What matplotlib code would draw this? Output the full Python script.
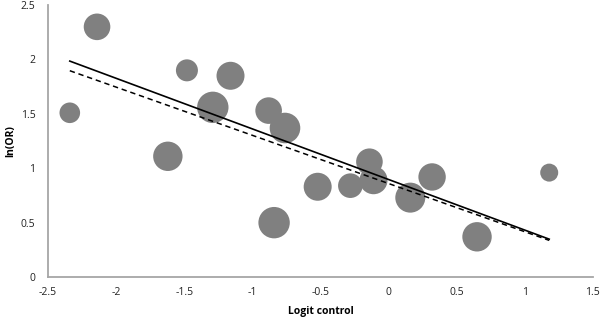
import matplotlib
matplotlib.use('Agg')
import matplotlib.pyplot as plt
import numpy as np

# bubble data
logit_control = [-2.34, -2.14, -1.48, -1.16, -1.29, -1.62, -0.88, -0.76, -0.84,
                 -0.52, -0.28, -0.14, -0.11, 0.16, 0.32, 0.65, 1.18]
ln_or = [1.51, 2.30, 1.90, 1.85, 1.56, 1.11, 1.53, 1.37, 0.50,
         0.83, 0.84, 1.06, 0.89, 0.73, 0.92, 0.37, 0.96]
# bubble radius (relative weight)
weight = [10.3, 13.3, 11.0, 14.0, 15.7, 14.7, 13.3, 15.3, 15.7,
          14.0, 12.3, 13.3, 14.0, 15.0, 13.7, 14.7, 9.0]

# trend lines: intercept, slope
fit_solid = (0.897, -0.465)
fit_dashed = (0.860, -0.443)

xticks = [-2.5, -2, -1.5, -1, -0.5, 0, 0.5, 1, 1.5]
yticks = [0, 0.5, 1, 1.5, 2, 2.5]

plt.rcParams['font.family'] = ['Open Sans', 'DejaVu Sans']

fig = plt.figure(figsize=(6, 3.17), dpi=100)
ax = fig.add_axes([0.08, 0.126, 0.908, 0.858])

s = [(2 * r * 0.72) ** 2 for r in weight]
ax.scatter(logit_control, ln_or, s=s, color='#808080', edgecolors='none', zorder=2)

xs = np.array([min(logit_control), max(logit_control)])
ax.plot(xs, fit_solid[0] + fit_solid[1] * xs, color='black', lw=1.2, zorder=3)
ax.plot(xs, fit_dashed[0] + fit_dashed[1] * xs, color='black', lw=1.1,
        ls=(0, (3.5, 2.5)), zorder=3)

ax.set_xlim(-2.5, 1.5)
ax.set_ylim(0, 2.5)
ax.set_xticks(xticks)
ax.set_xticklabels([('%g' % v) for v in xticks])
ax.set_yticks(yticks)
ax.set_yticklabels([('%g' % v) for v in yticks])
ax.tick_params(length=0, labelsize=7.5, colors='#222222')
ax.tick_params(axis='x', pad=7)
ax.tick_params(axis='y', pad=9)

for side in ['top', 'right']:
    ax.spines[side].set_visible(False)
for side in ['left', 'bottom']:
    ax.spines[side].set_color('#a6a6a6')
    ax.spines[side].set_linewidth(1.3)

ax.set_xlabel('Logit control', fontsize=7.5, fontweight='bold', labelpad=6)
ax.set_ylabel('ln(OR)', fontsize=7.5, fontweight='bold', labelpad=3)

plt.savefig('out.png', dpi=100)
plt.close()
